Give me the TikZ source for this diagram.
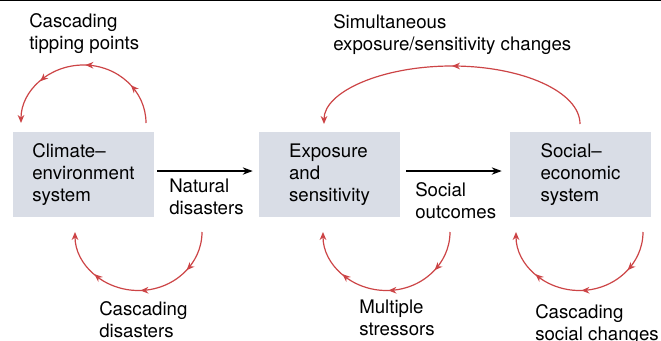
\documentclass[tikz,border=0pt]{standalone}
\usepackage{fontspec}
\setmainfont{TeX Gyre Heros}
\usepackage{tikz}
\usetikzlibrary{arrows.meta,decorations.markings,positioning}
\definecolor{boxgray}{RGB}{217,221,230}
\definecolor{loopred}{RGB}{204,68,70}

\begin{document}
\begin{tikzpicture}[x=0.75pt, y=0.75pt, font=\fontsize{14}{16.5}\selectfont]
			\tikzstyle{System}		= [fill=boxgray, minimum width=105.75pt, minimum height=64.1pt, align=left, inner sep=0pt]
			\tikzstyle{Label}		= [anchor=north west, align=left, inner sep=0pt]
			\tikzstyle{Flow}		= [line width=1.1pt, -{Stealth[length=7.5pt, width=5.5pt]}]
			\tikzstyle{Feedback}	= [loopred, line width=0.9pt, -{Stealth[length=6pt, width=5pt]}, postaction={decorate}]
			\tikzstyle{Three}		= [decoration={markings,
										mark=at position 0.22 with {\arrow{Stealth[length=6pt, width=5pt]}},
										mark=at position 0.49 with {\arrow{Stealth[length=6pt, width=5pt]}},
										mark=at position 0.75 with {\arrow{Stealth[length=6pt, width=5pt]}}}]
			\tikzstyle{One}			= [decoration={markings,
										mark=at position 0.5 with {\arrow{Stealth[length=6pt, width=5pt]}}}]

			\useasboundingbox (0,0) rectangle (661,-340);
			\draw [line width=1pt] (0,-0.67) -- (661,-0.67);

			% the three systems
			\node (climate) at (83.5,-174.75) [System] {Climate--\\environment\\system};
			\node (exposure) at (329.5,-174.75) [System] {Exposure\\and\\sensitivity};
			\node (social) at (580.5,-174.75) [System] {Social--\\economic\\system};

			\draw [Flow, shorten <=2.25pt, shorten >=4.5pt] ([yshift=2.8pt]climate.east) -- ([yshift=2.8pt]exposure.west);
			\draw [Flow, shorten <=4.5pt, shorten >=6pt] ([yshift=2.8pt]exposure.east) -- ([yshift=2.8pt]social.west);
			\node (natdis) at (169,-179) [Label] {Natural\\disasters};
			\node (socout) at (415,-182) [Label] {Social\\outcomes};

			% feedback loops
			\coordinate (tipstart) at (146,-123);
			\coordinate (simstart) at (580,-124);
			\foreach \n/\x in {disstart/202, strstart/450, chgstart/643}
				\coordinate (\n) at (\x,-232);

			\draw [Feedback, Three] (tipstart) arc [start angle=0, end angle=180, x radius=62.5, y radius=58];
			\draw [Feedback, One] (simstart) arc [start angle=0, end angle=180, x radius=128, y radius=58];
			\foreach \n in {disstart, strstart, chgstart}
				\draw [Feedback, Three] (\n) arc [start angle=0, end angle=-180, x radius=63.5, y radius=58.5];

			\node (tipping) at (29,-13) [Label] {Cascading\\tipping points};
			\node (simult) at (333,-14) [Label] {Simultaneous\\exposure/sensitivity changes};
			\node (casdis) at (99,-301) [Label] {Cascading\\disasters};
			\node (stress) at (359,-300) [Label] {Multiple\\stressors};
			\node (cassoc) at (535,-304) [Label] {Cascading\\social changes};
		\end{tikzpicture}
\end{document}
